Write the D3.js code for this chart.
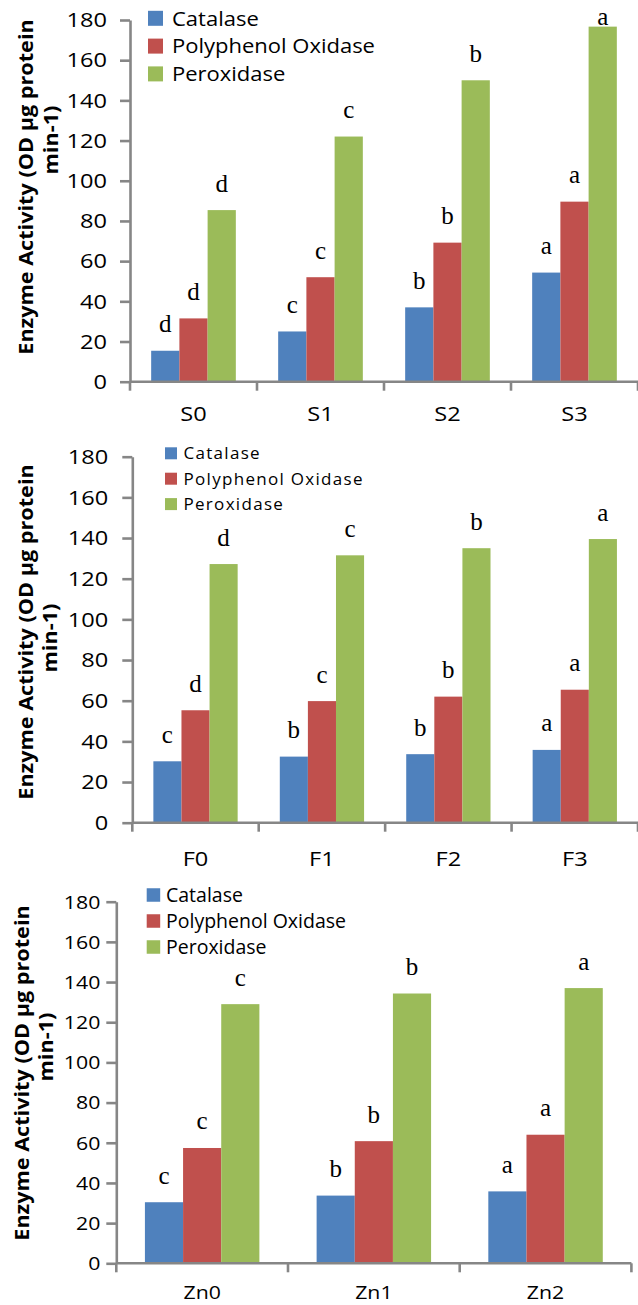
<!DOCTYPE html>
<html>
<head>
<meta charset="utf-8">
<script src="https://cdn.jsdelivr.net/npm/d3@7/dist/d3.min.js"></script>
<style>
  html, body { margin: 0; padding: 0; background: #fff; }
  svg { display: block; }
</style>
</head>
<body>
<svg id="chart" width="638" height="1305"></svg>
<script>
// Enzyme activity (catalase, polyphenol oxidase, peroxidase) under three treatment series.
const enzymes = ["Catalase", "Polyphenol Oxidase", "Peroxidase"];
const enzymeColors = ["#4F81BD", "#C0504D", "#9BBB59"];
const yTicks = [0, 20, 40, 60, 80, 100, 120, 140, 160, 180];
const yTitle1 = "Enzyme Activity (OD µg protein";
const yTitle2 = "min-1)";

// Sulphur levels
const sulphurLevels = ["S0", "S1", "S2", "S3"];
const sulphurCatalase = [15.4, 25, 37, 54.3];
const sulphurPPO = [31.5, 52, 69.2, 89.6];
const sulphurPOX = [85.4, 122, 150, 176.7];
const sulphurCatalaseSig = ["d", "c", "b", "a"];
const sulphurPPOSig = ["d", "c", "b", "a"];
const sulphurPOXSig = ["d", "c", "b", "a"];

// F levels
const fLevels = ["F0", "F1", "F2", "F3"];
const fCatalase = [30.2, 32.5, 33.7, 35.8];
const fPPO = [55.3, 59.8, 62, 65.4];
const fPOX = [127.2, 131.5, 135, 139.5];
const fCatalaseSig = ["c", "b", "b", "a"];
const fPPOSig = ["d", "c", "b", "a"];
const fPOXSig = ["d", "c", "b", "a"];

// Zinc levels
const znLevels = ["Zn0", "Zn1", "Zn2"];
const znCatalase = [30.4, 33.7, 35.8];
const znPPO = [57.4, 60.8, 64];
const znPOX = [129, 134.3, 137];
const znCatalaseSig = ["c", "b", "a"];
const znPPOSig = ["c", "b", "a"];
const znPOXSig = ["c", "b", "a"];

const panels = [
  {
    cats: sulphurLevels,
    values: [sulphurCatalase, sulphurPPO, sulphurPOX],
    sig: [sulphurCatalaseSig, sulphurPPOSig, sulphurPOXSig],
    left: 130, right: 638, bottom: 381.7, top: 20,
    tickFont: 20, tickStretch: 1.18, tickGap: 23,
    xLabelY: 421,
    legend: { x: 148, y: 18.3, dy: 27.8, sw: 15, tx: 172, fs: 20, stretch: 1.1, ls: 0 },
    title: { x1: 33, c1: 187, x2: 58, c2: 140 }
  },
  {
    cats: fLevels,
    values: [fCatalase, fPPO, fPOX],
    sig: [fCatalaseSig, fPPOSig, fPOXSig],
    left: 132.3, right: 638, bottom: 822.7, top: 456.7,
    tickFont: 20, tickStretch: 1.18, tickGap: 24,
    xLabelY: 866,
    legend: { x: 165, y: 453.3, dy: 25.4, sw: 12, tx: 183.5, fs: 17, stretch: 1.0, ls: 1.3 },
    title: { x1: 33, c1: 632, x2: 57, c2: 638 }
  },
  {
    cats: znLevels,
    values: [znCatalase, znPPO, znPOX],
    sig: [znCatalaseSig, znPPOSig, znPOXSig],
    left: 116.3, right: 631.4, bottom: 1263.3, top: 901.7,
    tickFont: 19, tickStretch: 1.12, tickGap: 16,
    xLabelY: 1299,
    legend: { x: 146.7, y: 895, dy: 26, sw: 13.5, tx: 166, fs: 19.5, stretch: 1.0, ls: 0 },
    title: { x1: 29, c1: 1073, x2: 53, c2: 1047 }
  }
];

const svg = d3.select("#chart");
const axisColor = "#868686";
const sansFont = "'Open Sans', 'Noto Sans', sans-serif";

function stretchedText(g, x, y, str, size, stretch, anchor) {
  return g.append("text")
    .attr("transform", `translate(${x},${y}) scale(${stretch},1)`)
    .attr("font-family", sansFont)
    .attr("font-size", size)
    .attr("fill", "#000")
    .attr("text-anchor", anchor || "start")
    .text(str);
}

panels.forEach(p => {
  const g = svg.append("g");

  const y = d3.scaleLinear().domain([0, 180]).range([p.bottom, p.top]);
  const x = d3.scaleBand().domain(p.cats).range([p.left, p.right]).paddingInner(0).paddingOuter(0);
  const xInner = d3.scaleBand().domain(enzymes).range([0, x.bandwidth()]).paddingInner(0).paddingOuter(0.75);

  // bars
  enzymes.forEach((e, si) => {
    g.append("g").selectAll("rect")
      .data(p.cats.map((c, i) => ({ c, v: p.values[si][i] })))
      .join("rect")
      .attr("x", d => x(d.c) + xInner(e))
      .attr("y", d => y(d.v))
      .attr("width", xInner.bandwidth())
      .attr("height", d => y(0) - y(d.v))
      .attr("fill", enzymeColors[si]);
  });

  // significance letters
  enzymes.forEach((e, si) => {
    g.append("g").selectAll("text")
      .data(p.cats.map((c, i) => ({ c, v: p.values[si][i], s: p.sig[si][i] })))
      .join("text")
      .attr("x", d => x(d.c) + xInner(e) + xInner.bandwidth() / 2)
      .attr("y", d => Math.max(y(d.v) - 18.5, p.top + 5))
      .attr("text-anchor", "middle")
      .attr("font-family", "'Liberation Serif', 'Times New Roman', serif")
      .attr("font-size", 25)
      .attr("fill", "#000")
      .text(d => d.s);
  });

  // y axis
  const yAxis = d3.axisLeft(y).tickValues(yTicks).tickSize(10).tickSizeOuter(0).tickFormat("");
  const ya = g.append("g").attr("transform", `translate(${p.left},0)`).call(yAxis);
  ya.select(".domain").attr("stroke", axisColor).attr("stroke-width", 2.6);
  ya.selectAll(".tick line").attr("stroke", axisColor).attr("stroke-width", 2.6);
  yTicks.forEach(t => {
    stretchedText(g, p.left - p.tickGap, y(t) + p.tickFont * 0.36, String(t), p.tickFont, p.tickStretch, "end");
  });

  // x axis line with ticks at the category boundaries
  g.append("line")
    .attr("x1", p.left).attr("x2", p.right)
    .attr("y1", y(0)).attr("y2", y(0))
    .attr("stroke", axisColor).attr("stroke-width", 2.6);
  const bounds = p.cats.map(c => x(c)).concat([x(p.cats[p.cats.length - 1]) + x.bandwidth()]);
  g.append("g").selectAll("line")
    .data(bounds)
    .join("line")
    .attr("x1", d => d).attr("x2", d => d)
    .attr("y1", y(0)).attr("y2", y(0) + 9)
    .attr("stroke", axisColor).attr("stroke-width", 2.6);
  p.cats.forEach(c => {
    stretchedText(g, x(c) + x.bandwidth() / 2, p.xLabelY, c, p.tickFont, p.tickStretch, "middle");
  });

  // legend
  const L = p.legend;
  enzymes.forEach((e, i) => {
    const cy = L.y + i * L.dy;
    g.append("rect")
      .attr("x", L.x).attr("y", cy - L.sw / 2)
      .attr("width", L.sw).attr("height", L.sw)
      .attr("fill", enzymeColors[i]);
    stretchedText(g, L.tx, cy + L.fs * 0.36, e, L.fs, L.stretch, "start")
      .attr("letter-spacing", L.ls);
  });

  // y axis title (two lines)
  const T = p.title;
  [[yTitle1, T.x1, T.c1], [yTitle2, T.x2, T.c2]].forEach(([str, tx, tc]) => {
    g.append("text")
      .attr("transform", `translate(${tx},${tc}) rotate(-90) scale(1.14,1)`)
      .attr("text-anchor", "middle")
      .attr("font-family", sansFont)
      .attr("font-weight", "bold")
      .attr("font-size", 19)
      .attr("fill", "#000")
      .text(str);
  });
});
</script>
</body>
</html>
